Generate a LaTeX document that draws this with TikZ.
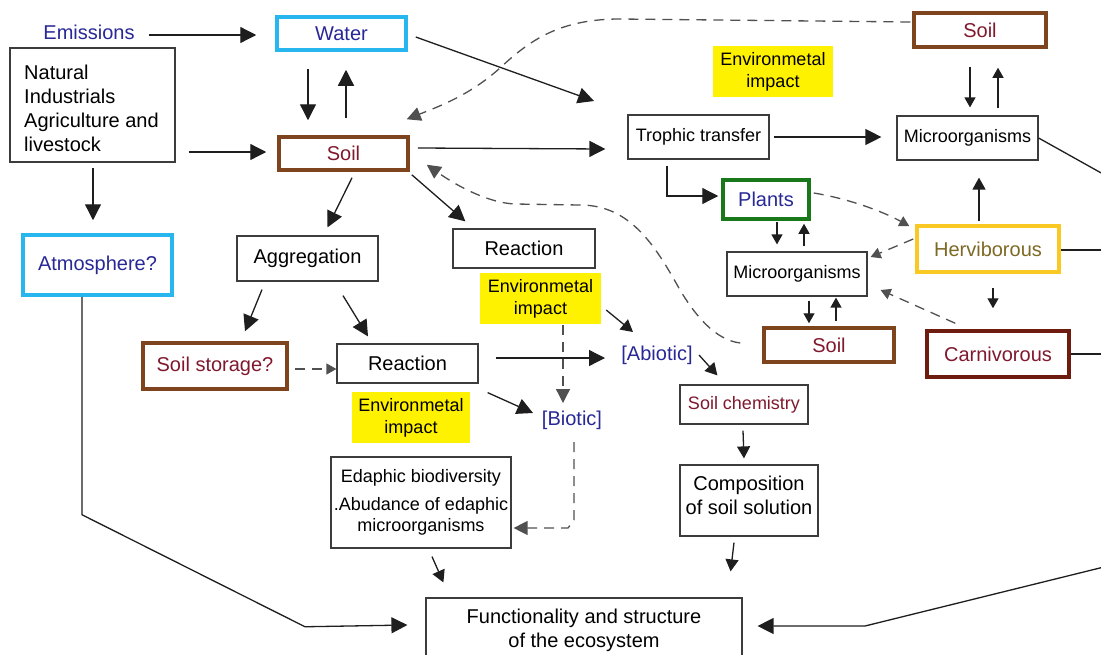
\documentclass[tikz,border=0pt]{standalone}
\usepackage{fontspec}
\setmainfont{Liberation Sans}
\usetikzlibrary{arrows.meta,calc}
\definecolor{cyanb}{RGB}{40,182,238}
\definecolor{soilb}{RGB}{125,68,30}
\definecolor{plantb}{RGB}{25,120,25}
\definecolor{hervb}{RGB}{250,200,35}
\definecolor{carnb}{RGB}{110,28,15}
\definecolor{yel}{RGB}{255,242,0}
\definecolor{navyt}{RGB}{40,40,150}
\definecolor{maroont}{RGB}{128,25,45}
\definecolor{olivet}{RGB}{125,105,35}
\definecolor{boxc}{RGB}{60,60,60}
\definecolor{linec}{RGB}{30,30,30}
\definecolor{dashc}{RGB}{80,80,80}
\newcommand\fa{\fontsize{20}{24}\selectfont}
\newcommand\fb{\fontsize{18}{22}\selectfont}
\newcommand\fc{\fontsize{18}{21}\selectfont}
\begin{document}
\begin{tikzpicture}[x=1pt,y=-1pt,
  box/.style={draw=boxc,line width=1.2pt,inner sep=0pt,align=center,font=\fa,text=black,fill=white},
  cbox/.style={box,line width=3.5pt},
  lab/.style={inner sep=0pt,font=\fa},
  envbox/.style={fill=yel,inner sep=0pt,align=center,font=\fb,minimum width=120pt,minimum height=51pt},
  con/.style={draw=linec,line width=1.3pt},
  arr/.style={con,-{Triangle[length=16pt,width=16pt]}},
  marr/.style={con,-{Triangle[length=12pt,width=13pt]}},
  sarr/.style={con,-{Triangle[length=10pt,width=11pt]}},
  dline/.style={con,draw=dashc,dash pattern=on 10pt off 7pt},
  dtip/.style={-{Triangle[length=14pt,width=14pt]}},
  dstip/.style={-{Triangle[length=10pt,width=11pt]}}
]
\fill[white] (0,0) rectangle (1101,654);
\clip (0,0) rectangle (1101,654);

% ---------- nodes ----------
\node[lab,text=navyt] (emis) at (89,32) {Emissions};
\node[cbox,draw=cyanb,text=navyt,minimum width=129pt,minimum height=33pt] (water) at (341.5,33.5) {Water};
\node[box,minimum width=165pt,minimum height=114pt] (src) at (92.5,105) {};
\node[lab,anchor=west,align=left] (srct) at (24,108.5) {Natural\\Industrials\\Agriculture and\\livestock};
\node[cbox,draw=soilb,text=maroont,minimum width=129pt,minimum height=33pt] (soilA) at (343.5,153.5) {Soil};
\node[cbox,draw=cyanb,text=navyt,minimum width=149pt,minimum height=60pt] (atm) at (97.5,265) {Atmosphere?};
\node[box,minimum width=141pt,minimum height=45pt] (aggr) at (307.5,258.5) {Aggregation};
\node[box,minimum width=142pt,minimum height=39pt] (react1) at (524,248.5) {Reaction};
\node[envbox,minimum width=121pt] (env1) at (540.5,298.5) {Environmetal\\impact};
\node[envbox] (env2) at (773,71.5) {Environmetal\\impact};
\node[envbox,minimum width=118pt] (env3) at (411,417.5) {Environmetal\\impact};
\node[box,font=\fb,minimum width=141pt,minimum height=44pt] (troph) at (698.5,137) {Trophic transfer};
\node[box,font=\fb,minimum width=141pt,minimum height=44pt] (microA) at (967.5,138) {Microorganisms};
\node[cbox,draw=soilb,text=maroont,minimum width=132pt,minimum height=34pt] (soilB) at (980,30) {Soil};
\node[cbox,draw=plantb,text=navyt,minimum width=86pt,minimum height=39pt] (plants) at (766,199.5) {Plants};
\node[cbox,draw=hervb,text=olivet,minimum width=142pt,minimum height=46pt] (herv) at (988,249) {Herviborous};
\node[box,font=\fb,minimum width=140pt,minimum height=44pt] (microB) at (797,274) {Microorganisms};
\node[cbox,draw=soilb,text=maroont,minimum width=130pt,minimum height=34pt] (soilC) at (829,345) {Soil};
\node[cbox,draw=carnb,text=maroont,minimum width=142pt,minimum height=46pt] (carn) at (998,354) {Carnivorous};
\node[cbox,draw=soilb,text=maroont,minimum width=144pt,minimum height=46pt] (store) at (215,366) {Soil storage?};
\node[box,minimum width=141pt,minimum height=39pt] (react2) at (407.5,363.5) {Reaction};
\node[lab,text=navyt] (abio) at (657,355) {[Abiotic]};
\node[lab,text=navyt] (bio) at (572,420) {[Biotic]};
\node[box,font=\fb,text=maroont,minimum width=128pt,minimum height=39pt] (chem) at (744,404.5) {Soil chemistry};
\node[box,minimum width=138pt,minimum height=71pt] (comp) at (749,500.5) {};
\node[lab,align=center] (compt) at (749,495) {Composition\\of soil solution};
\node[box,font=\fc,minimum width=180pt,minimum height=91pt] (edaph) at (421,502.5) {Edaphic biodiversity\\[7pt].Abudance of edaphic\\microorganisms};
\node[box,minimum width=316pt,minimum height=64pt] (func) at (584,630) {Functionality and structure\\of the ecosystem};

\coordinate (wfree) at (594,101);
\coordinate (rout1) at (1112,179);
\coordinate (rout2) at (1112,250);
\coordinate (rout3) at (1112,354);
\coordinate (rin) at (1112,565);

% ---------- connectors: left part ----------
\draw[arr] ($(emis.east)+(14,3)$) -- ($(water.west)+(-19,1.5)$);
\draw[arr] ($(water.south)+(-33.5,17)$) -- ($(soilA.north)+(-35.5,-15)$);
\draw[arr] ($(soilA.north)+(2.5,-17)$) -- ($(water.south)+(4.5,18)$);
\draw[arr] ($(src.east)+(13,47)$) -- ($(soilA.west)+(-11,-1.5)$);
\draw[arr] ($(src.south)+(0.5,5)$) -- ($(atm.north)+(-4.5,-13)$);
\draw[arr] ($(water.east)+(8,3.5)$) -- (wfree);
\draw[arr] ($(soilA.east)+(8,-5.5)$) -- ($(troph.west)+(-22,12)$);
\draw[arr] ($(soilA.south)+(8.5,6)$) -- ($(aggr.north)+(20,-8)$);
\draw[arr] ($(soilA.south east)+(2,3)$) -- ($(react1.north west)+(13,-7)$);
\draw[arr] ($(aggr.south)+(-45.5,8)$) -- ($(store.north)+(30,-10)$);
\draw[arr] ($(aggr.south)+(35.5,14)$) -- ($(react2.north)+(-39.5,-7)$);
\draw[dline,dstip] ($(store.east)+(6,3)$) -- ($(react2.west)+(0,5.5)$);
\draw[arr] ($(react2.east)+(17,-5.5)$) -- ($(abio)+(-52,3)$);
\draw[arr] ($(react2.south east)+(9,9)$) -- ($(bio)+(-39,-7)$);
\draw[marr] ($(env1.east)+(5,11.5)$) -- ($(abio)+(-24,-23)$);
\draw[dline,dtip] ($(env1.south)+(22.5,1)$) -- ($(bio)+(-9,-17)$);
\draw[marr] ($(abio)+(42,0)$) -- ($(chem.north west)+(38,-9)$);
\draw[dline,dtip] ($(bio)+(2,22)$) -- ($(bio)+(2,100)$) -- ($(bio)+(-4,108)$) -- ($(edaph.east)+(2,25.5)$);
\draw[marr] ($(chem.south)+(-1,6)$) -- ($(comp.north)+(-5,-6)$);
\draw[marr] ($(comp.south)+(-15,6)$) -- ($(func.north east)+(-12,-26)$);
\draw[marr] ($(edaph.south)+(11,8)$) -- ($(func.north west)+(18,-15)$);
\draw[arr] ($(atm.south)+(-15.5,0)$) -- ++(0,218) -- ++(223,112) -- ($(func.west)+(-18,-5)$);
\draw[arr] (rin) -- (865,626) -- ($(func.east)+(15,-4)$);

% ---------- dashed long curves ----------
\draw[dline,dtip] ($(soilB.west)+(-2,-8)$) -- (620,19)
  .. controls (560,19) and (530,40) .. (500,68)
  .. controls (470,95) and (440,106) .. ($(soilA.north east)+(-3,-16)$);
\draw[dline,dtip] ($(soilC.west)+(-22,-2)$)
  .. controls (715,340) and (695,315) .. (680,290)
  .. controls (655,245) and (630,205) .. (580,205) -- (515,204)
  .. controls (490,203) and (460,188) .. ($(soilA.south east)+(17,-7)$);

% ---------- right part ----------
\draw[arr] ($(troph.east)+(4,0)$) -- ($(microA.west)+(-15,-1)$);
\draw[arr] ($(troph.south)+(-31.5,6)$) |- ($(plants.west)+(-3,-3.5)$);
\draw[sarr] ($(soilB.south)+(-10,18)$) -- ($(microA.north)+(2.5,-8)$);
\draw[sarr] ($(microA.north)+(30.5,-7)$) -- ($(soilB.south)+(18,19)$);
\draw[marr] ($(herv.north)+(-9,-3)$) -- ($(microA.south)+(11.5,17)$);
\draw[sarr] ($(herv.south)+(5,14)$) -- ($(carn.north)+(-5,-21)$);
\draw[con] (microA.east) -- (rout1);
\draw[con] ($(herv.east)+(0,1)$) -- (rout2);
\draw[con] (carn.east) -- (rout3);
\draw[dline,dstip] ($(plants.east)+(3,-6.5)$)
  .. controls (845,198) and (880,210) .. ($(herv.west)+(-6,-23)$);
\draw[dline,dstip] ($(herv.west)+(-2,-10)$) -- ($(microB.east)+(3,-17)$);
\draw[dline,dstip] ($(carn.north west)+(30,-6)$) -- ($(microB.east)+(13,16)$);
\draw[sarr] ($(plants.south)+(11,1)$) -- ($(microB.north)+(-20,-7)$);
\draw[sarr] ($(microB.north)+(7,-5)$) -- ($(plants.south)+(38,3)$);
\draw[sarr] ($(microB.south)+(12,4)$) -- ($(soilC.north)+(-20,-3)$);
\draw[sarr] ($(soilC.north)+(7,-5)$) -- ($(microB.south)+(39,1)$);
\end{tikzpicture}
\end{document}
